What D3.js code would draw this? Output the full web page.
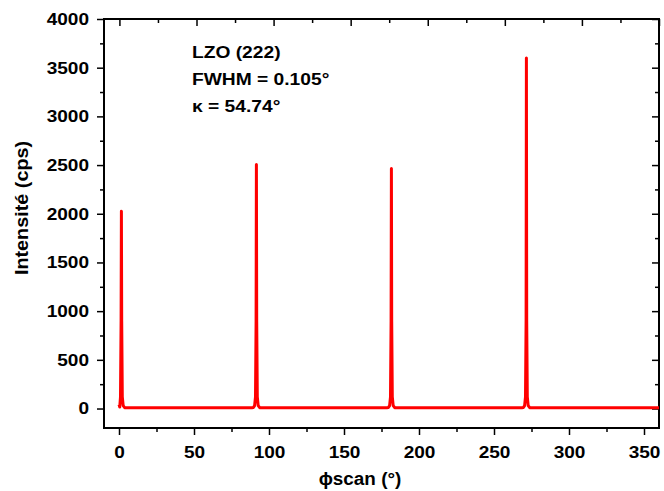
<!DOCTYPE html>
<html>
<head>
<meta charset="utf-8">
<script src="https://cdn.jsdelivr.net/npm/d3@7"></script>
<style>
  body { margin: 0; background: #fff; }
  text { font-family: Arial, "Liberation Sans", sans-serif; font-weight: bold; fill: #000; }
</style>
</head>
<body>
<div class="box"></div>
<script>
// DATA
const phi = [
  0, 0.5, 1.0, 1.4, 1.6, 1.8, 2.2, 2.8, 3.8,
  30, 60, 88.6,
  89.6, 90.4, 91.0, 91.4, 91.6, 91.8, 92.2, 92.8, 93.8,
  120, 150, 178.6,
  179.6, 180.4, 181.0, 181.4, 181.6, 181.8, 182.2, 182.8, 183.8,
  210, 240, 268.6,
  269.6, 270.4, 271.0, 271.4, 271.6, 271.8, 272.2, 272.8, 273.8,
  300, 330, 360
];
const intensity = [
  40, 15, 120, 900, 2025, 900, 120, 30, 8,
  7, 8, 8,
  10, 30, 120, 900, 2505, 900, 120, 30, 9,
  8, 7, 8,
  10, 30, 120, 900, 2465, 900, 120, 30, 9,
  8, 8, 8,
  10, 30, 120, 900, 3600, 900, 120, 30, 9,
  8, 7, 8
];

const xMajor = [0, 50, 100, 150, 200, 250, 300, 350];
const xMinor = [25, 75, 125, 175, 225, 275, 325];
const yMajor = [0, 500, 1000, 1500, 2000, 2500, 3000, 3500, 4000];
const yMinor = [250, 750, 1250, 1750, 2250, 2750, 3250, 3750];

const annotation = ['LZO (222)', 'FWHM = 0.105°', 'κ = 54.74°'];

// SETUP
const W = 664, H = 491;
const margin = {top: 19, right: 5, bottom: 63, left: 104};
const gw = W - margin.left - margin.right;
const gh = H - margin.top - margin.bottom;

const svg = d3.select('.box').append('svg')
  .attr('width', W).attr('height', H);

const graph = svg.append('g')
  .attr('transform', `translate(${margin.left}, ${margin.top})`);

const x = d3.scaleLinear().domain([-10, 360]).range([0, gw]);
const xTop = d3.scaleLinear().domain([-10, 350]).range([0, gw]); // top axis is scaled a bit differently
const y = d3.scaleLinear().domain([-200, 4000]).range([gh, 0]);

// stretch text a little, the original fonts are wider
function stretch(sel, k) {
  sel.each(function() {
    const len = this.getComputedTextLength();
    d3.select(this).attr('textLength', len * k).attr('lengthAdjust', 'spacingAndGlyphs');
  });
}

function styleAxis(g) {
  g.select('.domain').remove();
  g.selectAll('line').attr('stroke', '#000').attr('stroke-width', 1.5);
  g.selectAll('text').style('font-size', '17px').attr('font-family', null).attr('fill', '#000');
}

// bottom
graph.append('g').attr('transform', `translate(0, ${gh})`)
  .call(d3.axisBottom(x).tickValues(xMajor).tickSize(7).tickPadding(11).tickFormat(d3.format('d')))
  .call(styleAxis);
graph.append('g').attr('transform', `translate(0, ${gh})`)
  .call(d3.axisBottom(x).tickValues(xMinor).tickSize(4).tickFormat(''))
  .call(styleAxis);
// left
graph.append('g')
  .call(d3.axisLeft(y).tickValues(yMajor).tickSize(7).tickPadding(8).tickFormat(d3.format('d')))
  .call(styleAxis);
graph.append('g')
  .call(d3.axisLeft(y).tickValues(yMinor).tickSize(4).tickFormat(''))
  .call(styleAxis);
// top (inward)
graph.append('g')
  .call(d3.axisTop(xTop).tickValues(xMajor).tickSize(-7).tickFormat(''))
  .call(styleAxis);
graph.append('g')
  .call(d3.axisTop(xTop).tickValues(xMinor).tickSize(-4).tickFormat(''))
  .call(styleAxis);
// right (inward)
graph.append('g').attr('transform', `translate(${gw}, 0)`)
  .call(d3.axisRight(y).tickValues(yMajor).tickSize(-7).tickFormat(''))
  .call(styleAxis);
graph.append('g').attr('transform', `translate(${gw}, 0)`)
  .call(d3.axisRight(y).tickValues(yMinor).tickSize(-4).tickFormat(''))
  .call(styleAxis);

graph.selectAll('text').call(stretch, 1.12);

// frame
graph.append('rect')
  .attr('width', gw).attr('height', gh)
  .attr('fill', 'none').attr('stroke', '#000').attr('stroke-width', 2);

// the scan
const points = phi.map((p, i) => [p, intensity[i]]);
const line = d3.line().x(d => x(d[0])).y(d => y(d[1]));
graph.append('path')
  .datum(points)
  .attr('d', line)
  .attr('fill', 'none')
  .attr('stroke', '#ff0000')
  .attr('stroke-width', 3)
  .attr('stroke-linejoin', 'round');

// annotation
graph.selectAll('.note')
  .data(annotation)
  .enter().append('text')
  .attr('class', 'note')
  .attr('x', 192 - margin.left)
  .attr('y', (d, i) => 58 - margin.top + i * 27)
  .style('font-size', '16px')
  .text(d => d)
  .call(stretch, 1.2);

// axis titles
svg.append('text')
  .attr('x', 360).attr('y', 485)
  .attr('text-anchor', 'middle')
  .style('font-size', '18px')
  .text('ϕscan (°)')
  .call(stretch, 1.05);

svg.append('text')
  .attr('transform', 'translate(28, 208) rotate(-90)')
  .attr('text-anchor', 'middle')
  .style('font-size', '18px')
  .text('Intensité (cps)')
  .call(stretch, 1.1);
</script>
</body>
</html>
